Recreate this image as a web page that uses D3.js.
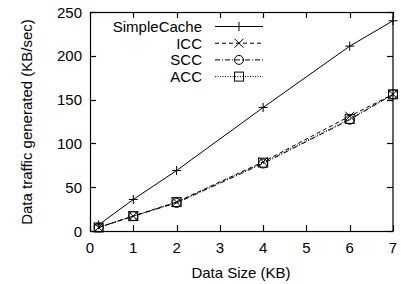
<!DOCTYPE html>
<html><head><meta charset="utf-8">
<script src="https://cdn.jsdelivr.net/npm/d3@7"></script>
<style>body{margin:0;background:#fff}text{font-family:"Liberation Sans",Arial,sans-serif;fill:#000}</style>
</head><body><svg id="c" width="401" height="284"></svg>
<script>
const dataSizes = [0.2, 1, 2, 4, 6, 7];
const simpleCache = [7, 36, 69, 141, 211, 240];
const icc = [4, 17, 33, 79, 131, 156];
const scc = [4, 17, 32, 77, 127, 156];
const acc = [4, 17, 33, 78, 128, 156];
const seriesNames = ["SimpleCache", "ICC", "SCC", "ACC"];
const xTicks = [0, 1, 2, 3, 4, 5, 6, 7];
const yTicks = [0, 50, 100, 150, 200, 250];

const svg = d3.select("#c");
const L = 90, R = 393, T = 12, B = 231;
const x = d3.scaleLinear().domain([0, 7]).range([L, R]);
const y = d3.scaleLinear().domain([0, 250]).range([B, T]);

const series = [
  {name: seriesNames[0], vals: simpleCache, dash: null, marker: "plus"},
  {name: seriesNames[1], vals: icc, dash: "4,3", marker: "cross"},
  {name: seriesNames[2], vals: scc, dash: "5,2,1,2", marker: "circle"},
  {name: seriesNames[3], vals: acc, dash: "1,1.5", marker: "square"}
];

const tl = 6;
const ax = svg.append("g").attr("stroke", "#000").attr("stroke-width", 1.2).attr("fill", "none");
ax.append("rect").attr("x", L + 0.5).attr("y", T + 0.5).attr("width", R - L - 0.5).attr("height", B - T);
xTicks.forEach(t => {
  const px = Math.round(x(t)) + 0.5;
  ax.append("line").attr("x1", px).attr("x2", px).attr("y1", B).attr("y2", B - tl);
  ax.append("line").attr("x1", px).attr("x2", px).attr("y1", T).attr("y2", T + tl);
});
yTicks.forEach(t => {
  const py = Math.round(y(t)) + 0.5;
  ax.append("line").attr("x1", L).attr("x2", L + tl).attr("y1", py).attr("y2", py);
  ax.append("line").attr("x1", R).attr("x2", R - tl).attr("y1", py).attr("y2", py);
});
const fs = 15;
svg.append("g").selectAll("text").data(xTicks).join("text")
  .attr("x", d => x(d)).attr("y", 253).attr("text-anchor", "middle").attr("font-size", fs).text(d => d);
svg.append("g").selectAll("text").data(yTicks).join("text")
  .attr("x", 82).attr("y", d => y(d) + 5.5).attr("text-anchor", "end").attr("font-size", fs).text(d => d);
svg.append("text").attr("x", 241).attr("y", 278).attr("text-anchor", "middle").attr("font-size", fs).text("Data Size (KB)");
svg.append("text").attr("transform", "translate(32,122) rotate(-90)").attr("text-anchor", "middle").attr("font-size", fs).text("Data traffic generated (KB/sec)");

function marker(g, type, cx, cy) {
  const s = 4.5;
  if (type === "plus") {
    g.append("path").attr("d", `M${cx - s},${cy}H${cx + s}M${cx},${cy - s}V${cy + s}`);
  } else if (type === "cross") {
    g.append("path").attr("d", `M${cx - s},${cy - s}L${cx + s},${cy + s}M${cx - s},${cy + s}L${cx + s},${cy - s}`);
  } else if (type === "circle") {
    g.append("circle").attr("cx", cx).attr("cy", cy).attr("r", s);
  } else {
    g.append("rect").attr("x", cx - s).attr("y", cy - s).attr("width", 2 * s).attr("height", 2 * s);
  }
}

const line = d3.line().x(d => x(d[0])).y(d => y(d[1]));
series.forEach((s, i) => {
  const g = svg.append("g").attr("stroke", "#000").attr("fill", "none").attr("stroke-width", 1);
  const pts = dataSizes.map((d, j) => [d, s.vals[j]]);
  g.append("path").attr("d", line(pts)).attr("stroke-dasharray", s.dash);
  pts.forEach(p => marker(g, s.marker, x(p[0]), y(p[1])));
  const ly = 26.5 + i * 16.7;
  svg.append("text").attr("x", 202).attr("y", ly + 5.5).attr("text-anchor", "end").attr("font-size", fs).text(s.name);
  const lg = svg.append("g").attr("stroke", "#000").attr("fill", "none").attr("stroke-width", 1);
  lg.append("line").attr("x1", 215).attr("x2", 263).attr("y1", ly).attr("y2", ly).attr("stroke-dasharray", s.dash);
  marker(lg, s.marker, 239, ly);
});
</script></body></html>
